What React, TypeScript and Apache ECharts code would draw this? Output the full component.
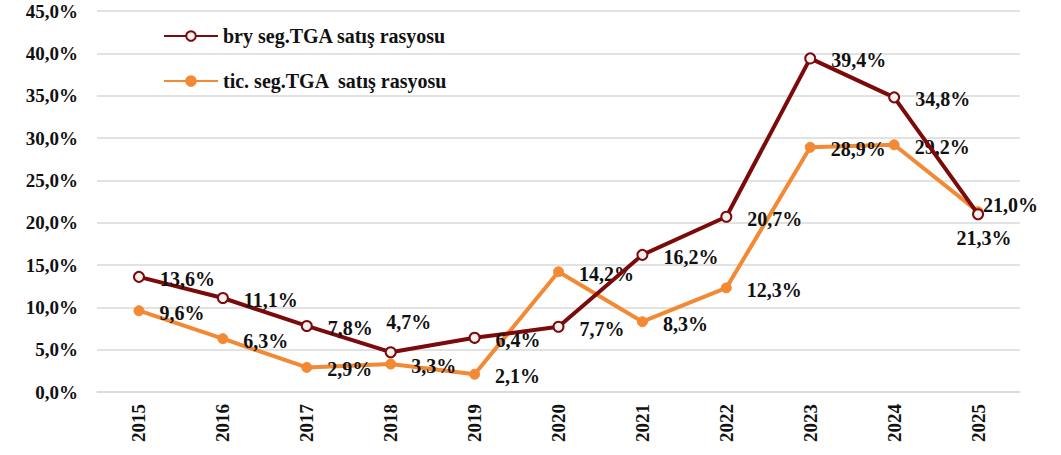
import React, { useEffect, useRef } from "react";
import * as echarts from "echarts";

const years = ["2015", "2016", "2017", "2018", "2019", "2020", "2021", "2022", "2023", "2024", "2025"];
const bryValues = [13.6, 11.1, 7.8, 4.7, 6.4, 7.7, 16.2, 20.7, 39.4, 34.8, 21.0];
const ticValues = [9.6, 6.3, 2.9, 3.3, 2.1, 14.2, 8.3, 12.3, 28.9, 29.2, 21.3];
const seriesNames = ["bry seg.TGA satış rasyosu", "tic. seg.TGA  satış rasyosu"];

const BROWN = "#7b0a0a";
const ORANGE = "#f28a35";
const FONT = "'Liberation Serif', 'Times New Roman', serif";

const fmt = (v: number) => v.toFixed(1).replace(".", ",") + "%";

export default function App() {
  const ref = useRef<HTMLDivElement>(null);
  useEffect(() => {
    if (!ref.current) return;
    const chart = echarts.init(ref.current, undefined, { renderer: "svg" });
    const labelBase = {
      show: true,
      position: "right" as const,
      distance: 15,
      offset: [0, 2],
      color: "#111",
      fontFamily: FONT,
      fontWeight: "bold" as const,
      fontSize: 20,
      formatter: (p: any) => fmt(p.value),
    };
    const bryData = bryValues.map((v, i) => {
      if (i === 3) return { value: v, label: { position: "top" as const, distance: 14, offset: [18, 0] } };
      if (i === 10) return { value: v, label: { offset: [-16, -9] } };
      return v;
    });
    const ticData = ticValues.map((v, i) => {
      if (i === 10) return { value: v, label: { position: "bottom" as const, distance: 11, offset: [6, 0] } };
      return v;
    });
    chart.setOption({
      animation: false,
      backgroundColor: "#ffffff",
      grid: { left: 97, right: 41, top: 11, bottom: 63 },
      legend: {
        orient: "vertical",
        left: 158,
        top: 21,
        itemWidth: 54,
        itemHeight: 12,
        itemGap: 25,
        textStyle: { fontFamily: FONT, fontWeight: "bold", fontSize: 20, color: "#111" },
        data: seriesNames,
      },
      xAxis: {
        type: "category",
        data: years,
        boundaryGap: true,
        axisLine: { show: true, lineStyle: { color: "#d9d9d9", width: 1.5 } },
        axisTick: { show: false },
        axisLabel: {
          rotate: 90,
          margin: 12,
          color: "#111",
          fontFamily: FONT,
          fontWeight: "bold",
          fontSize: 19,
        },
      },
      yAxis: {
        type: "value",
        min: 0,
        max: 45,
        interval: 5,
        axisLine: { show: false },
        axisTick: { show: false },
        splitLine: { lineStyle: { color: "#d9d9d9", width: 1.5 } },
        axisLabel: {
          margin: 19,
          color: "#111",
          fontFamily: FONT,
          fontWeight: "bold",
          fontSize: 19,
          formatter: (v: number) => fmt(v),
        },
      },
      series: [
        {
          name: seriesNames[0],
          type: "line",
          data: bryData,
          symbol: "circle",
          symbolSize: 10,
          lineStyle: { color: BROWN, width: 4 },
          itemStyle: { color: "#f3f0f0", borderColor: BROWN, borderWidth: 2 },
          label: labelBase,
          z: 3,
        },
        {
          name: seriesNames[1],
          type: "line",
          data: ticData,
          symbol: "circle",
          symbolSize: 10,
          lineStyle: { color: ORANGE, width: 4 },
          itemStyle: { color: ORANGE, borderColor: ORANGE, borderWidth: 1 },
          label: labelBase,
          z: 2,
        },
      ],
    });
    return () => chart.dispose();
  }, []);
  return (
    <div
      ref={ref}
      style={{ position: "fixed", left: 0, top: 0, width: 1061, height: 455, background: "#fff" }}
    />
  );
}
